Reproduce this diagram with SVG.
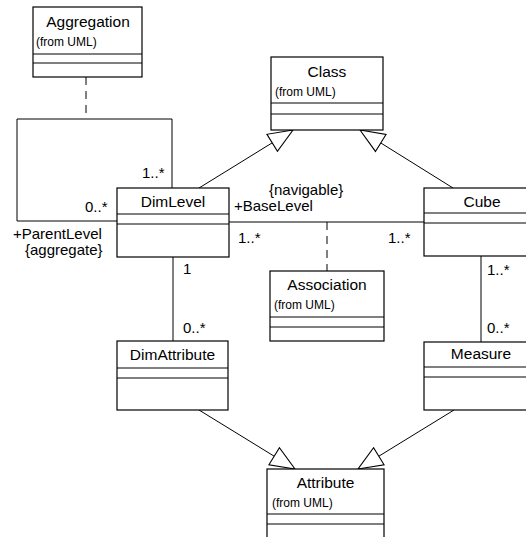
<svg xmlns="http://www.w3.org/2000/svg" width="526" height="537" viewBox="0 0 526 537">
<defs>
<marker id="gen" markerUnits="userSpaceOnUse" markerWidth="30" markerHeight="30" viewBox="-25 -12 27 24" refX="0" refY="0" orient="auto">
<path d="M0,0 L-22,-9 L-22,9 Z" fill="#fff" stroke="#000" stroke-width="1"/>
</marker>
<style>
.box{fill:#fff;stroke:#000;stroke-width:1.2}
.div{stroke:#000;stroke-width:1}
.name{font-family:"Liberation Sans",Arial,sans-serif;font-size:15.5px;text-anchor:middle;fill:#000}
.from{font-family:"Liberation Sans",Arial,sans-serif;font-size:12px;fill:#000}
.lbl{font-family:"Liberation Sans",Arial,sans-serif;font-size:15px;fill:#000}
.ln{fill:none;stroke:#000;stroke-width:1}
.dash{fill:none;stroke:#000;stroke-width:1;stroke-dasharray:8,6}
</style>
</defs>
<rect width="526" height="537" fill="#fff"/>
<g id="connectors">
<line class="dash" x1="86" y1="77" x2="86" y2="119"/>
<polyline class="ln" points="172,188 172,119 17,119 17,221 117,221"/>
<line class="ln" x1="229" y1="222" x2="424" y2="222"/>
<line class="dash" x1="327" y1="222" x2="327" y2="271"/>
<line class="ln" x1="173" y1="257" x2="173" y2="341"/>
<line class="ln" x1="481" y1="256" x2="481" y2="342"/>
<line class="ln" x1="199" y1="188" x2="293" y2="130" marker-end="url(#gen)"/>
<line class="ln" x1="453" y1="188" x2="360" y2="130" marker-end="url(#gen)"/>
<line class="ln" x1="199" y1="410" x2="295" y2="469" marker-end="url(#gen)"/>
<line class="ln" x1="454" y1="410" x2="358" y2="469" marker-end="url(#gen)"/>
<text class="lbl" x="142" y="178">1..*</text>
<text class="lbl" x="85" y="212">0..*</text>
<text class="lbl" x="13" y="239">+ParentLevel</text>
<text class="lbl" x="25" y="255">{aggregate}</text>
<text class="lbl" x="269" y="195">{navigable}</text>
<text class="lbl" x="234" y="211">+BaseLevel</text>
<text class="lbl" x="238" y="243">1..*</text>
<text class="lbl" x="388" y="243">1..*</text>
<text class="lbl" x="183" y="274">1</text>
<text class="lbl" x="183" y="333">0..*</text>
<text class="lbl" x="487" y="275">1..*</text>
<text class="lbl" x="487" y="333">0..*</text>
</g>
<g id="Aggregation">
<rect class="box" x="33" y="7" width="109" height="70"/>
<line class="div" x1="33" y1="54" x2="142" y2="54"/>
<line class="div" x1="33" y1="63" x2="142" y2="63"/>
<text class="name" x="88" y="27">Aggregation</text>
<text class="from" x="36" y="46">(from UML)</text>
</g>
<g id="Class">
<rect class="box" x="271" y="57" width="112" height="73"/>
<line class="div" x1="271" y1="103" x2="383" y2="103"/>
<line class="div" x1="271" y1="114" x2="383" y2="114"/>
<text class="name" x="327" y="77">Class</text>
<text class="from" x="275" y="96">(from UML)</text>
</g>
<g id="DimLevel">
<rect class="box" x="117" y="188" width="112" height="69"/>
<line class="div" x1="117" y1="214" x2="229" y2="214"/>
<line class="div" x1="117" y1="224" x2="229" y2="224"/>
<text class="name" x="173" y="207">DimLevel</text>
</g>
<g id="Cube">
<rect class="box" x="424" y="188" width="110" height="68"/>
<line class="div" x1="424" y1="213" x2="534" y2="213"/>
<line class="div" x1="424" y1="223" x2="534" y2="223"/>
<text class="name" x="482" y="207">Cube</text>
</g>
<g id="Association">
<rect class="box" x="270" y="271" width="114" height="70"/>
<line class="div" x1="270" y1="317" x2="384" y2="317"/>
<line class="div" x1="270" y1="327" x2="384" y2="327"/>
<text class="name" x="327" y="290">Association</text>
<text class="from" x="274" y="309">(from UML)</text>
</g>
<g id="DimAttribute">
<rect class="box" x="117" y="341" width="111" height="69"/>
<line class="div" x1="117" y1="368" x2="228" y2="368"/>
<line class="div" x1="117" y1="378" x2="228" y2="378"/>
<text class="name" x="172.5" y="360">DimAttribute</text>
</g>
<g id="Measure">
<rect class="box" x="424" y="342" width="110" height="68"/>
<line class="div" x1="424" y1="367" x2="534" y2="367"/>
<line class="div" x1="424" y1="377" x2="534" y2="377"/>
<text class="name" x="481" y="359">Measure</text>
</g>
<g id="Attribute">
<rect class="box" x="267" y="469" width="117" height="80"/>
<line class="div" x1="267" y1="514" x2="384" y2="514"/>
<line class="div" x1="267" y1="524" x2="384" y2="524"/>
<text class="name" x="325.5" y="488">Attribute</text>
<text class="from" x="272" y="507">(from UML)</text>
</g>
</svg>
